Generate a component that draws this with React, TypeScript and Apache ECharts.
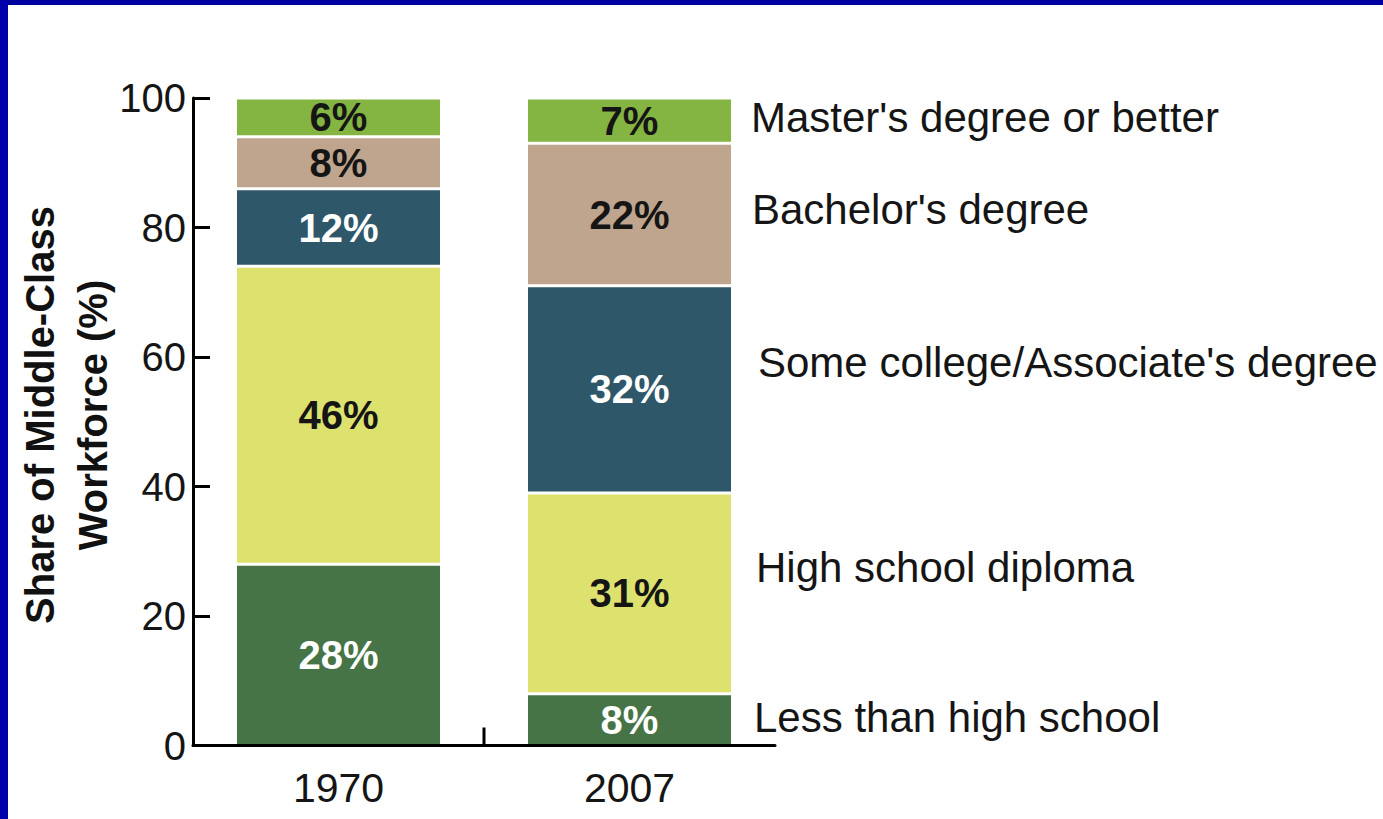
import React, { useEffect, useRef } from 'react';
import * as echarts from 'echarts';

const years = ['1970', '2007'];
const lessThanHighSchool = [28, 8];
const highSchoolDiploma = [46, 31];
const someCollege = [12, 32];
const bachelors = [8, 22];
const masters = [6, 7];
const yAxisMax = 100;
const yAxisInterval = 20;

const seriesNames = [
  'Less than high school',
  'High school diploma',
  "Some college/Associate's degree",
  "Bachelor's degree",
  "Master's degree or better",
];
const seriesData = [lessThanHighSchool, highSchoolDiploma, someCollege, bachelors, masters];
const seriesColors = ['#467446', '#DDE26F', '#2E5769', '#BFA48E', '#84B441'];
const labelColors = ['#ffffff', '#151515', '#ffffff', '#151515', '#151515'];

// right-hand annotation texts
const rightLabels = [
  { text: "Master's degree or better", x: 751, y: 117 },
  { text: "Bachelor's degree", x: 752, y: 209 },
  { text: "Some college/Associate's degree", x: 758, y: 362 },
  { text: 'High school diploma', x: 756, y: 567 },
  { text: 'Less than high school', x: 754, y: 717 },
];

const FONT = "'Liberation Sans', Arial, Helvetica, sans-serif";

export default function App() {
  const ref = useRef<HTMLDivElement>(null);

  useEffect(() => {
    if (!ref.current) return;
    const chart = echarts.init(ref.current, undefined, { renderer: 'svg' });
    chart.setOption({
      animation: false,
      backgroundColor: '#ffffff',
      grid: { left: 193, top: 98, width: 582, height: 647.5, containLabel: false },
      xAxis: {
        type: 'category',
        data: years,
        z: 10,
        axisLine: { lineStyle: { color: '#000', width: 3 } },
        axisTick: { show: false },
        axisLabel: { color: '#151515', fontSize: 41, fontFamily: FONT, margin: 22 },
      },
      yAxis: {
        type: 'value',
        min: 0,
        max: yAxisMax,
        interval: yAxisInterval,
        z: 10,
        splitLine: { show: false },
        axisLine: { show: true, lineStyle: { color: '#000', width: 3 } },
        axisTick: { show: true, inside: true, length: 17, lineStyle: { color: '#000', width: 3 } },
        axisLabel: { color: '#151515', fontSize: 40, fontFamily: FONT, margin: 7 },
      },
      series: seriesNames.map((name, i) => ({
        name,
        type: 'bar',
        stack: 'total',
        barWidth: 206,
        data: seriesData[i],
        itemStyle: { color: seriesColors[i], borderColor: '#ffffff', borderWidth: 1.5 },
        label: {
          show: true,
          position: 'inside',
          formatter: '{c}%',
          color: labelColors[i],
          fontSize: 40,
          fontWeight: 'bold',
          fontFamily: FONT,
        },
      })),
    });

    const xa = chart.convertToPixel({ xAxisIndex: 0 }, years[0]) as number;
    const xb = chart.convertToPixel({ xAxisIndex: 0 }, years[1]) as number;
    const y0 = chart.convertToPixel({ yAxisIndex: 0 }, 0) as number;
    const mid = (xa + xb) / 2;

    chart.setOption({
      graphic: [
        { type: 'rect', shape: { x: 0, y: 0, width: 1383, height: 5 }, style: { fill: '#0000A0' }, z: 100 },
        { type: 'rect', shape: { x: 0, y: 0, width: 8, height: 819 }, style: { fill: '#0000AC' }, z: 100 },
        { type: 'line', shape: { x1: mid, y1: y0, x2: mid, y2: y0 - 18 }, style: { stroke: '#000', lineWidth: 3 }, z: 100 },
        {
          type: 'text',
          x: 66,
          y: 415,
          rotation: Math.PI / 2,
          style: {
            text: 'Share of Middle-Class\nWorkforce (%)',
            fill: '#111',
            font: `bold 40px ${FONT}`,
            align: 'center',
            verticalAlign: 'middle',
            lineHeight: 53,
          },
        },
        ...rightLabels.map((l) => ({
          type: 'text',
          x: l.x,
          y: l.y,
          style: {
            text: l.text,
            fill: '#151515',
            font: `42px ${FONT}`,
            align: 'left',
            verticalAlign: 'middle',
          },
        })),
      ],
    });

    return () => chart.dispose();
  }, []);

  return (
    <div
      ref={ref}
      style={{ position: 'absolute', left: 0, top: 0, width: 1383, height: 819, background: '#fff' }}
    />
  );
}
